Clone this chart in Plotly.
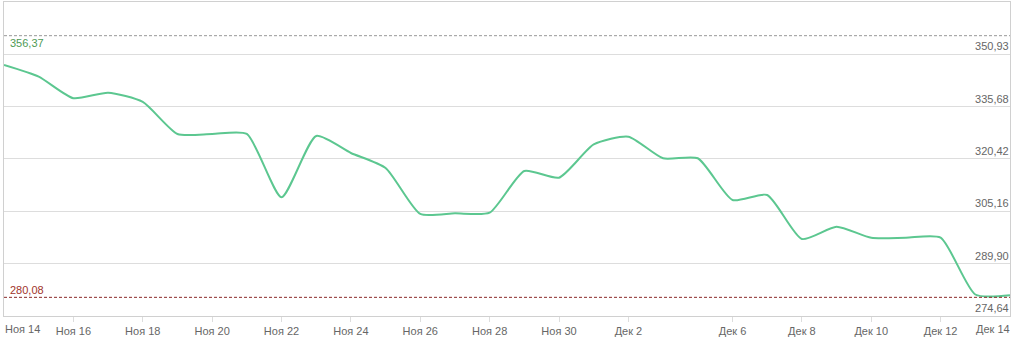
import plotly.graph_objects as go

dates = ["Ноя 14", "Ноя 15", "Ноя 16", "Ноя 17", "Ноя 18", "Ноя 19", "Ноя 20", "Ноя 21",
         "Ноя 22", "Ноя 23", "Ноя 24", "Ноя 25", "Ноя 26", "Ноя 27", "Ноя 28", "Ноя 29",
         "Ноя 30", "Дек 1", "Дек 2", "Дек 4", "Дек 5", "Дек 6", "Дек 7", "Дек 8",
         "Дек 9", "Дек 10", "Дек 11", "Дек 12", "Дек 13", "Дек 14"]
values = [347.84, 344.43, 338.13, 339.76, 337.05, 327.71, 327.71, 327.71,
          309.26, 327.13, 322.17, 317.80, 304.39, 304.59, 304.76, 316.92,
          314.97, 324.65, 326.93, 320.63, 320.63, 308.47, 309.93, 297.09,
          300.68, 297.47, 297.47, 297.47, 280.91, 280.68]

tick_dates = ["Ноя 16", "Ноя 18", "Ноя 20", "Ноя 22", "Ноя 24", "Ноя 26", "Ноя 28",
              "Ноя 30", "Дек 2", "Дек 6", "Дек 8", "Дек 10", "Дек 12"]
edge_first = "Ноя 14"
edge_last = "Дек 14"

y_ticks = [274.64, 289.90, 305.16, 320.42, 335.68, 350.93]
y_tick_text = ["274,64", "289,90", "305,16", "320,42", "335,68", "350,93"]
y_top = 366.19

max_val = 356.37
max_text = "356,37"
min_val = 280.08
min_text = "280,08"

font_family = "Liberation Sans, Arial, sans-serif"
grey_txt = "#666666"
grid_col = "#dddddd"

fig = go.Figure()
fig.add_trace(go.Scatter(
    x=dates, y=values, mode="lines",
    line=dict(color="#5cc790", width=2, shape="spline", smoothing=0.6),
    hoverinfo="skip", showlegend=False,
))

fig.add_shape(type="line", xref="paper", yref="y", x0=0, x1=1, y0=max_val, y1=max_val,
              line=dict(color="#999999", width=1, dash="3px,2px"))
fig.add_shape(type="line", xref="paper", yref="y", x0=0, x1=1, y0=min_val, y1=min_val,
              line=dict(color="#8b2a2a", width=1, dash="3px,2px"))

fig.add_annotation(xref="paper", yref="y", x=0, y=max_val, text=max_text,
                   showarrow=False, xanchor="left", yanchor="top", xshift=4, yshift=1,
                   font=dict(family=font_family, size=11, color="#4e9a55"))
fig.add_annotation(xref="paper", yref="y", x=0, y=min_val, text=min_text,
                   showarrow=False, xanchor="left", yanchor="bottom", xshift=4, yshift=-1,
                   font=dict(family=font_family, size=11, color="#a0332b"))

fig.add_annotation(xref="x", yref="paper", x=edge_first, y=0, text=edge_first,
                   showarrow=False, xanchor="left", yanchor="top", xshift=-1, yshift=-5,
                   font=dict(family=font_family, size=11, color=grey_txt))
fig.add_annotation(xref="x", yref="paper", x=edge_last, y=0, text=edge_last,
                   showarrow=False, xanchor="right", yanchor="top", xshift=2, yshift=-5,
                   font=dict(family=font_family, size=11, color=grey_txt))

fig.update_layout(
    width=1024, height=341,
    margin=dict(l=4, r=14, t=2, b=25),
    paper_bgcolor="white", plot_bgcolor="white",
    separators=", ",
    font=dict(family=font_family, size=11, color=grey_txt),
    xaxis=dict(
        type="category", categoryorder="array", categoryarray=dates,
        range=[0, len(dates) - 1],
        tickmode="array", tickvals=tick_dates, ticktext=tick_dates,
        ticks="outside", ticklen=5, tickcolor=grid_col,
        showgrid=False, zeroline=False,
        showline=True, linecolor="#d0d0d0", linewidth=1, mirror=True,
        tickfont=dict(family=font_family, size=11, color=grey_txt),
        fixedrange=True,
    ),
    yaxis=dict(
        range=[y_ticks[0], y_top],
        side="right",
        tickmode="array", tickvals=y_ticks, ticktext=y_tick_text,
        ticklabelposition="inside top",
        ticks="", showgrid=True, gridcolor=grid_col, gridwidth=1,
        zeroline=False,
        showline=True, linecolor="#d0d0d0", linewidth=1, mirror=True,
        tickfont=dict(family=font_family, size=11, color=grey_txt),
        fixedrange=True,
    ),
)

fig.write_html("out.html", config={"displayModeBar": False})
